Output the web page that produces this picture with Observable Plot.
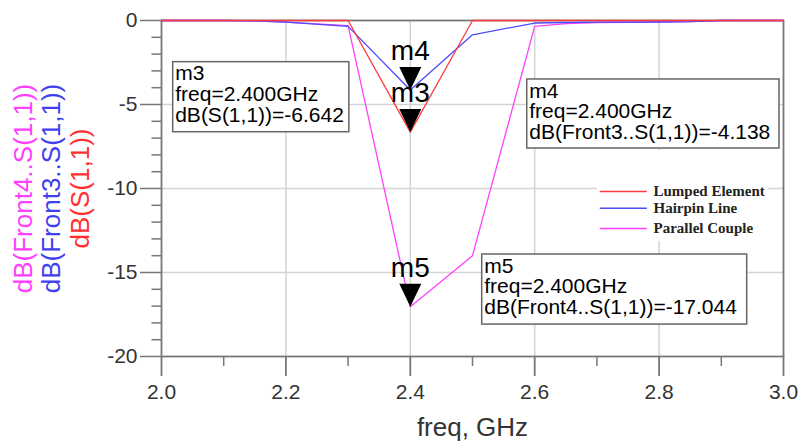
<!DOCTYPE html>
<html>
<head>
<meta charset="utf-8">
<script src="https://cdn.jsdelivr.net/npm/d3@7"></script>
<script src="https://cdn.jsdelivr.net/npm/@observablehq/plot@0.6"></script>
<style>
  html, body { margin: 0; padding: 0; background: #fff; }
  #chart svg { display: block; }
</style>
</head>
<body>
<div id="chart"></div>
<script>
// ---- data ----
const freq     = [2.0, 2.1, 2.15, 2.2, 2.3, 2.4, 2.5, 2.6, 2.65, 2.7, 2.8, 2.85, 2.9, 3.0];
const lumped   = [0, 0, 0, 0, 0, -6.642, 0, 0, 0, 0, 0, 0, 0, 0];
const hairpin  = [0, 0, -0.02, -0.1, -0.35, -4.138, -0.85, -0.15, -0.12, -0.1, -0.09, -0.07, 0, 0];
const parallel = [0, 0, -0.02, -0.1, -0.3, -17.044, -14.0, -0.35, -0.18, -0.12, -0.1, -0.07, 0, 0];

const seriesNames  = ["Lumped Element", "Hairpin Line", "Parallel Couple"];
const seriesColors = ["#ff3b3b", "#4b4bff", "#ff40ff"];
const yTitles      = ["dB(Front4..S(1,1))", "dB(Front3..S(1,1))", "dB(S(1,1))"];
const yTitleColors = ["#ff40ff", "#4040f0", "#ff3030"];

const markerNames  = ["m3", "m4", "m5"];
const markerFreq   = [2.4, 2.4, 2.4];
const markerValues = [-6.642, -4.138, -17.044];
const markerExpr   = ["dB(S(1,1))", "dB(Front3..S(1,1))", "dB(Front4..S(1,1))"];

const xMajor = [2.0, 2.2, 2.4, 2.6, 2.8, 3.0];
const xMinor = [2.1, 2.3, 2.5, 2.7, 2.9];
const yMajor = [0, -5, -10, -15, -20];
const yMinor = d3.range(-19, 0, 1).filter(v => v % 5 !== 0);
const xGrid  = [2.2, 2.4, 2.6, 2.8];
const yGrid  = [-5, -10, -15];

// ---- tables built from the arrays ----
const rows = freq.map((f, i) => ({freq: f, lumped: lumped[i], hairpin: hairpin[i], parallel: parallel[i]}));
const markers = markerNames.map((n, i) => ({name: n, freq: markerFreq[i], value: markerValues[i],
  text: `${n}\nfreq=${markerFreq[i].toFixed(3)}GHz\n${markerExpr[i]}=${markerValues[i].toFixed(3)}`}));

// annotation layout (data coordinates of marker readout boxes)
const boxLayout = [
  {x1: 2.0188, x2: 2.302, y1: -2.48, y2: -6.65},
  {x1: 2.588,  x2: 2.9936, y1: -3.51, y2: -7.62},
  {x1: 2.5156, x2: 2.9416, y1: -13.93, y2: -18.10}
];
const boxes = markers.map((m, i) => ({...m, ...boxLayout[i]}));
const legendRowsY = [-10.18, -11.17, -12.38];
const legend = seriesNames.map((n, i) => ({name: n, color: seriesColors[i], y: legendRowsY[i]}));

const downTriangle = {
  draw(ctx) { ctx.moveTo(0, 0); ctx.lineTo(-11, -23); ctx.lineTo(11, -23); ctx.closePath(); }
};

const chart = Plot.plot({
  width: 798,
  height: 444,
  marginLeft: 161,
  marginRight: 15,
  marginTop: 20,
  marginBottom: 88,
  x: {domain: [2, 3], label: null},
  y: {domain: [-20, 0], label: null},
  style: {fontFamily: "'Liberation Sans', Arial, sans-serif", background: "#fff", overflow: "visible"},
  marks: [
    Plot.gridX(xGrid, {stroke: "#d4d4d4", strokeOpacity: 1, strokeWidth: 1.5}),
    Plot.gridY(yGrid, {stroke: "#d4d4d4", strokeOpacity: 1, strokeWidth: 1.5}),
    // legend background
    Plot.rect([0], {x1: 2.701, x2: 2.976, y1: -7.74, y2: -13.15, fill: "#fff"}),
    Plot.frame({stroke: "#777", strokeWidth: 1.8}),
    Plot.axisY({ticks: yMinor, tickSize: 9.5, tickFormat: () => "", stroke: "#777", strokeWidth: 1.5, label: null}),
    Plot.axisY({ticks: yMajor, tickSize: 21, tickPadding: 3, fontSize: 21, tickFormat: d => String(d),
      color: "#333", stroke: "#777", strokeWidth: 1.5, label: null}),
    Plot.axisX({ticks: xMinor, tickSize: 10, tickFormat: () => "", stroke: "#777", strokeWidth: 1.5, label: null}),
    Plot.axisX({ticks: xMajor, tickSize: 20, tickPadding: 8, fontSize: 21, tickFormat: d => d.toFixed(1),
      color: "#333", stroke: "#777", strokeWidth: 1.8, label: null}),
    // series
    Plot.line(rows, {x: "freq", y: "parallel", stroke: seriesColors[2], strokeWidth: 1.3}),
    Plot.line(rows, {x: "freq", y: "hairpin", stroke: seriesColors[1], strokeWidth: 1.3}),
    Plot.line(rows, {x: "freq", y: "lumped", stroke: seriesColors[0], strokeWidth: 1.3}),
    // legend
    Plot.ruleY(legend, {y: "y", x1: 2.7054, x2: 2.781, stroke: "color", strokeWidth: 1.5}),
    Plot.text(legend, {x: 2.791, y: "y", text: "name", textAnchor: "start", lineAnchor: "middle",
      fontFamily: "'Liberation Serif', 'Times New Roman', serif", fontWeight: "bold", fontSize: 15, fill: "#222"}),
    // marker readout boxes
    Plot.rect(boxes, {x1: "x1", x2: "x2", y1: "y1", y2: "y2", fill: "#fff", stroke: "#666", strokeWidth: 1.5}),
    Plot.text(boxes, {x: "x1", y: "y1", text: "text", textAnchor: "start", lineAnchor: "top",
      dx: 2, dy: 3.6, lineHeight: 0.98, fontSize: 21, fill: "#000"}),
    // markers
    Plot.dot(markers, {x: "freq", y: "value", symbol: downTriangle, fill: "#000", stroke: null}),
    Plot.text(markers, {x: "freq", y: "value", text: "name", dy: -30, lineAnchor: "bottom", fontSize: 28, fill: "#000"}),
    // axis titles
    ...yTitles.map((t, i) => Plot.text([t], {frameAnchor: "left", text: d => d, rotate: -90,
      dx: [-137.5, -109.5, -80.5][i], textAnchor: "middle", lineAnchor: "middle", fontSize: 26, fill: yTitleColors[i]})),
    Plot.text(["freq, GHz"], {frameAnchor: "bottom", text: d => d, dy: 70.7, textAnchor: "middle", lineAnchor: "middle", fontSize: 26, fill: "#333"})
  ]
});
document.getElementById("chart").appendChild(chart);
</script>
</body>
</html>
